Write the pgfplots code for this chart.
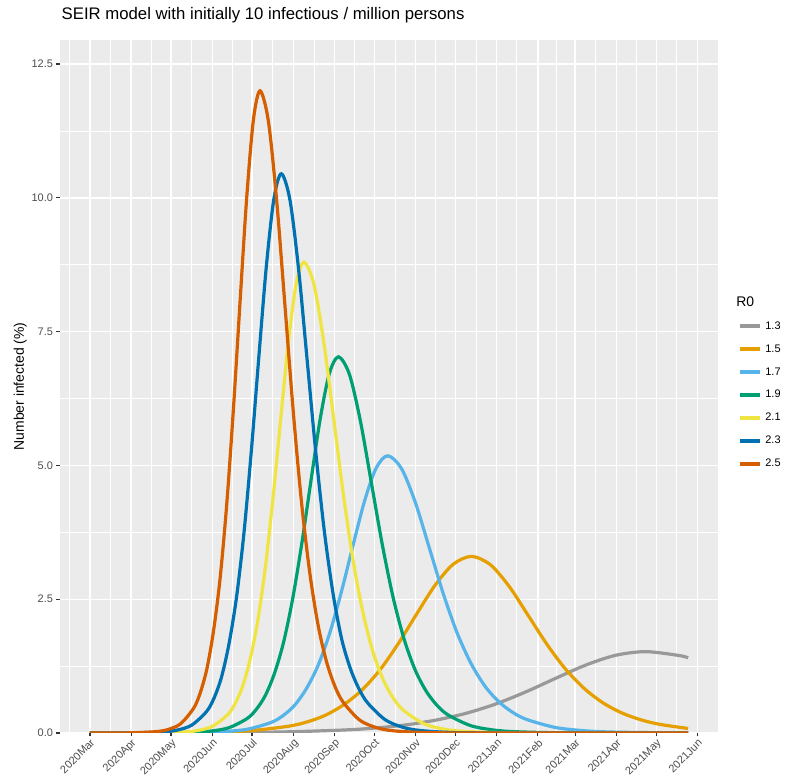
\documentclass[border=0pt]{standalone}
\usepackage{pgfplots}
\pgfplotsset{compat=1.18}
\usepackage{fontspec}
\setmainfont{Liberation Sans}

\definecolor{panelbg}{HTML}{EBEBEB}
\definecolor{grey20}{HTML}{333333}
\definecolor{grey30}{HTML}{4D4D4D}
\definecolor{rA}{HTML}{999999}
\definecolor{rB}{HTML}{E69F00}
\definecolor{rC}{HTML}{56B4E9}
\definecolor{rD}{HTML}{009E73}
\definecolor{rE}{HTML}{F0E442}
\definecolor{rF}{HTML}{0072B2}
\definecolor{rG}{HTML}{D55E00}

\begin{document}
\begin{tikzpicture}
\begin{axis}[
  scale only axis, width=658bp, height=693bp,
  xmin=-22.5, xmax=472.5, ymin=0, ymax=12.95,
  axis background/.style={fill=panelbg},
  axis line style={draw=none},
  xtick={0,31,61,92,122,153,184,214,245,275,306,337,365,396,426,457},
  xticklabels={2020Mar,2020Apr,2020May,2020Jun,2020Jul,2020Aug,2020Sep,2020Oct,2020Nov,2020Dec,2021Jan,2021Feb,2021Mar,2021Apr,2021May,2021Jun},
  minor xtick={-15.5,15.5,46,76.5,107,137.5,168.5,199,229.5,260,290.5,321,351,380.5,411,441.5},
  ytick={0,2.5,5,7.5,10,12.5}, yticklabels={0.0,2.5,5.0,7.5,10.0,12.5},
  minor ytick={1.25,3.75,6.25,8.75,11.25},
  grid=both,
  major grid style={white, line width=1.35bp},
  minor grid style={white, line width=0.68bp},
  tick align=outside, tick pos=left,
  major tick length=3.5bp, minor tick length=0pt,
  tick style={color=grey20, line width=1.2bp},
  ticklabel style={font=\fontsize{11}{13}\selectfont, text=grey30},
  xticklabel style={rotate=45, anchor=north east, inner sep=1bp},
  ylabel={Number infected (\%)},
  ylabel style={font=\fontsize{14}{16}\selectfont, yshift=-2bp},
  title={SEIR model with initially 10 infectious / million persons},
  title style={at={(0,1)}, anchor=base west, yshift=15bp, xshift=1.5bp, inner sep=0pt, font=\fontsize{16.8}{19}\selectfont},
  legend cell align=left,
  legend style={draw=none, fill=none, at={(1,0.5)}, anchor=west, xshift=17bp, yshift=3bp,
                font=\fontsize{11}{13}\selectfont, row sep=9bp, column sep=2bp,
                nodes={text height=8bp, text depth=2bp}},
  legend image code/.code={\draw[#1, line width=3.2bp] (0bp,0bp) -- (20bp,0bp);},
  every axis plot/.append style={line width=3.2bp, smooth},
]
\addlegendimage{empty legend}
\addlegendentry{\makebox[0pt][l]{\hspace{-29bp}\fontsize{14}{16}\selectfont R0}}

% R0 = 1.3
\addplot[rA] coordinates {(0,0.000) (13,0.001) (58,0.003) (103,0.008) (148,0.021) (193,0.058) (215.5,0.095) (238,0.152) (260.5,0.242) (283,0.368) (305.5,0.544) (328,0.769) (350.5,1.023) (373,1.269) (395.5,1.452) (418,1.520) (443,1.449) (450,1.405)};
\addlegendentry{1.3}
% R0 = 1.5
\addplot[rB] coordinates {(0,0.000) (67,0.006) (94.5,0.017) (122,0.046) (149.5,0.127) (163.25,0.206) (177,0.330) (190.75,0.525) (204.5,0.799) (218.25,1.181) (232,1.670) (245.75,2.221) (259.5,2.756) (273.25,3.152) (287,3.300) (301.25,3.145) (315.5,2.736) (329.75,2.195) (344,1.650) (358.25,1.181) (372.5,0.818) (386.75,0.551) (401,0.366) (415.25,0.241) (429.5,0.158) (450,0.085)};
\addlegendentry{1.5}
% R0 = 1.7
\addplot[rC] coordinates {(0,0.000) (49,0.001) (84,0.009) (101.5,0.026) (119,0.073) (136.5,0.199) (145.25,0.324) (154,0.518) (162.75,0.824) (171.5,1.254) (180.25,1.854) (189,2.621) (197.75,3.486) (206.5,4.325) (215.25,4.947) (224,5.180) (234.5,4.937) (245,4.294) (255.5,3.445) (266,2.590) (276.5,1.854) (287,1.285) (297.5,0.865) (308,0.575) (318.5,0.378) (329,0.249) (350,0.104) (371,0.044) (392,0.018) (434,0.003) (450,0.002)};
\addlegendentry{1.7}
% R0 = 1.9
\addplot[rD] coordinates {(0,0.000) (49.5,0.001) (77,0.013) (90.75,0.035) (104.5,0.098) (118.25,0.270) (125.1,0.439) (132,0.703) (138.9,1.118) (145.75,1.701) (152.6,2.517) (159.5,3.557) (166.4,4.731) (173.25,5.870) (180.1,6.714) (187,7.030) (195.25,6.700) (203.5,5.828) (211.75,4.675) (220,3.515) (228.25,2.517) (236.5,1.743) (244.75,1.174) (253,0.780) (261.25,0.513) (269.5,0.337) (286,0.141) (302.5,0.059) (319,0.025) (352,0.004) (400,0.001) (450,0.000)};
\addlegendentry{1.9}
% R0 = 2.1
\addplot[rE] coordinates {(0,0.000) (46,0.002) (69,0.016) (80.5,0.044) (92,0.123) (103.5,0.338) (109.25,0.550) (115,0.880) (120.75,1.399) (126.5,2.130) (132.25,3.150) (138,4.453) (143.75,5.922) (149.5,7.348) (155.25,8.404) (161,8.800) (168.5,8.386) (176,7.295) (183.5,5.852) (191,4.400) (198.5,3.150) (206,2.182) (213.5,1.470) (221,0.977) (228.5,0.642) (236,0.422) (251,0.176) (266,0.074) (281,0.031) (311,0.005) (360,0.001) (450,0.000)};
\addlegendentry{2.1}
% R0 = 2.3
\addplot[rF] coordinates {(0,0.000) (31.5,0.002) (54,0.019) (65.25,0.052) (76.5,0.146) (87.75,0.401) (93.4,0.653) (99,1.045) (104.6,1.662) (110.25,2.529) (115.9,3.741) (121.5,5.288) (127.1,7.033) (132.75,8.726) (138.4,9.980) (144,10.450) (150.5,9.959) (157,8.663) (163.5,6.949) (170,5.225) (176.5,3.741) (183,2.592) (189.5,1.745) (196,1.200) (202.5,0.820) (209,0.560) (222,0.250) (235,0.110) (248,0.048) (274,0.008) (320,0.001) (450,0.000)};
\addlegendentry{2.3}
% R0 = 2.5
\addplot[rG] coordinates {(0,0.000) (28,0.002) (48,0.022) (58,0.060) (68,0.168) (78,0.461) (83,0.750) (88,1.200) (93,1.908) (98,2.904) (103,4.296) (108,6.072) (113,8.076) (118,10.020) (123,11.460) (128,12.000) (134.25,11.436) (140.5,9.948) (146.75,7.980) (153,6.000) (159.25,4.296) (165.5,2.976) (171.75,2.004) (178,1.332) (184.25,0.876) (190.5,0.576) (203,0.240) (215.5,0.101) (228,0.042) (253,0.007) (300,0.001) (450,0.000)};
\addlegendentry{2.5}
\end{axis}
\path ([xshift=-60bp,yshift=40bp]current axis.north west) rectangle ([xshift=69bp,yshift=-50bp]current axis.south east);
\end{tikzpicture}
\end{document}
